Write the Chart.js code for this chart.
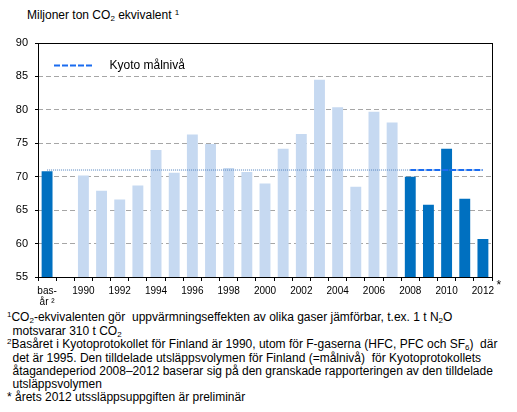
<!DOCTYPE html>
<html>
<head>
<meta charset="utf-8">
<script src="https://cdn.jsdelivr.net/npm/chart.js@4.4.0/dist/chart.umd.min.js"></script>
<style>
  html, body { margin: 0; padding: 0; background: #fff; }
  body { width: 517px; height: 412px; overflow: hidden; position: relative;
         font-family: "Liberation Sans", Arial, sans-serif; color: #000; }
  #wrap { position: absolute; left: 0; top: 0; width: 517px; height: 310px; }
  .title { position: absolute; left: 27px; top: 8px; font-size: 12px; line-height: 14px; white-space: nowrap; }
  .fn { position: absolute; white-space: nowrap; font-size: 12px; line-height: 13px; }
  sub, sup { font-size: 8px; line-height: 0; }
  sub { vertical-align: -2px; }
  sup { vertical-align: 4px; }
</style>
</head>
<body>
<div class="title">Miljoner ton CO<sub>2</sub> ekvivalent <sup>1</sup></div>
<div id="wrap"><canvas id="c" width="517" height="310"></canvas></div>

<div class="fn" style="left:7px; top:311px;"><sup>1</sup>CO<sub>2</sub>-ekvivalenten gör&nbsp; uppvärmningseffekten av olika gaser jämförbar, t.ex. 1 t N<sub>2</sub>O</div>
<div class="fn" style="left:12.5px; top:324.5px;">motsvarar 310 t CO<sub>2</sub></div>
<div class="fn" style="left:7px; top:338px;"><sup>2</sup>Basåret i Kyotoprotokollet för Finland är 1990, utom för F-gaserna (HFC, PFC och SF<sub>6</sub>)&nbsp; där</div>
<div class="fn" style="left:12.5px; top:351.5px;">det är 1995. Den tilldelade utsläppsvolymen för Finland (=målnivå)&nbsp; för Kyotoprotokollets</div>
<div class="fn" style="left:12.5px; top:364.5px;">åtagandeperiod 2008–2012 baserar sig på den granskade rapporteringen av den tilldelade</div>
<div class="fn" style="left:12.5px; top:378px;">utsläppsvolymen</div>
<div class="fn" style="left:7px; top:391px;">* årets 2012 utssläppsuppgiften är preliminär</div>

<script>
// ---- data ----
const categories = ['bas-år', '', '1990', '1991', '1992', '1993', '1994', '1995', '1996', '1997',
  '1998', '1999', '2000', '2001', '2002', '2003', '2004', '2005', '2006', '2007',
  '2008', '2009', '2010', '2011', '2012'];
const tickLabels = [['bas-', 'år ²'], '', '1990', '', '1992', '', '1994', '', '1996', '',
  '1998', '', '2000', '', '2002', '', '2004', '', '2006', '',
  '2008', '', '2010', '', '2012'];
const emissions = [70.8, null, 70.2, 67.9, 66.6, 68.7, 74.0, 70.6, 76.3, 74.9,
  71.3, 70.7, 69.0, 74.2, 76.4, 84.5, 80.4, 68.5, 79.7, 78.1,
  70.0, 65.8, 74.2, 66.7, 60.7];
const referenceLevel = [71, 71, 71, 71, 71, 71, 71, 71, 71, 71,
  71, 71, 71, 71, 71, 71, 71, 71, 71, 71,
  71, 71, 71, 71, 71];
const kyotoTarget = [null, null, null, null, null, null, null, null, null, null,
  null, null, null, null, null, null, null, null, null, null,
  71, 71, 71, 71, 71];
const yTicks = [55, 60, 65, 70, 75, 80, 85, 90];
const legendLabel = 'Kyoto målnivå';
const starredLabel = '2012';

// ---- style ----
const DARK = '#0070c0';
const LIGHT = '#c6d9f1';
const KYOTO = '#1a6cf0';
const DOTTED = '#4f81bd';
const FONT = '"Liberation Sans", Arial, sans-serif';

const framePlugin = {
  id: 'frame',
  afterDatasetsDraw(chart) {
    const a = chart.chartArea, ctx = chart.ctx;
    ctx.save();
    ctx.strokeStyle = '#000';
    ctx.lineWidth = 1;
    ctx.setLineDash([]);
    const l = Math.round(a.left) + 0.5, t = Math.round(a.top) + 0.5;
    const r = Math.round(a.right) + 0.5, b = Math.round(a.bottom) + 0.5;
    ctx.strokeRect(l, t, r - l, b - t);
    ctx.restore();
  }
};

const legendPlugin = {
  id: 'insideLegend',
  afterDraw(chart) {
    const a = chart.chartArea, ctx = chart.ctx;
    const ds = chart.data.datasets[2];
    const y = a.top + 22.5;
    ctx.save();
    ctx.strokeStyle = ds.borderColor;
    ctx.lineWidth = ds.borderWidth;
    ctx.setLineDash(ds.borderDash);
    ctx.beginPath();
    ctx.moveTo(a.left + 16, y);
    ctx.lineTo(a.left + 54, y);
    ctx.stroke();
    ctx.setLineDash([]);
    ctx.fillStyle = '#000';
    ctx.font = '12px ' + FONT;
    ctx.textBaseline = 'middle';
    ctx.textAlign = 'left';
    ctx.fillText(ds.label, a.left + 71.5, y);
    ctx.restore();
  }
};

const starPlugin = {
  id: 'star',
  afterDraw(chart) {
    const xs = chart.scales.x, ctx = chart.ctx;
    const idx = tickLabels.indexOf(starredLabel);
    const x = xs.getPixelForValue(idx);
    ctx.save();
    ctx.font = '10px ' + FONT;
    const w = ctx.measureText(starredLabel).width;
    ctx.font = '12px ' + FONT;
    ctx.fillStyle = '#000';
    ctx.textBaseline = 'top';
    ctx.textAlign = 'left';
    ctx.fillText('*', x + w / 2 + 2.5, xs.top + 3);
    ctx.restore();
  }
};

new Chart(document.getElementById('c'), {
  data: {
    labels: categories,
    datasets: [
      {
        type: 'bar',
        label: 'Utsläpp',
        data: emissions,
        backgroundColor: (ctx) => (ctx.dataIndex === 0 || ctx.dataIndex >= 20) ? DARK : LIGHT,
        borderWidth: 0,
        barPercentage: 0.6,
        categoryPercentage: 1.0,
        order: 3
      },
      {
        type: 'line',
        label: 'Basår',
        data: referenceLevel,
        borderColor: DOTTED,
        borderWidth: 1,
        borderDash: [1, 1],
        pointRadius: 0,
        fill: false,
        tension: 0,
        order: 2
      },
      {
        type: 'line',
        label: legendLabel,
        data: kyotoTarget,
        borderColor: KYOTO,
        borderWidth: 2,
        borderDash: [6, 2],
        pointRadius: 0,
        fill: false,
        tension: 0,
        order: 1
      }
    ]
  },
  options: {
    responsive: false,
    animation: false,
    devicePixelRatio: 1,
    layout: { padding: { top: 43, right: 25, left: 0, bottom: 0 } },
    plugins: { legend: { display: false }, tooltip: { enabled: false }, title: { display: false } },
    scales: {
      x: {
        type: 'category',
        offset: true,
        grid: {
          offset: true,
          drawOnChartArea: false,
          drawTicks: true,
          tickLength: 4,
          tickColor: '#000',
          tickBorderDash: [],
          color: '#000'
        },
        border: { display: false },
        ticks: {
          autoSkip: false,
          maxRotation: 0,
          minRotation: 0,
          padding: 4,
          color: '#000',
          font: { family: FONT, size: 10, lineHeight: 1.15 },
          callback: (v, i) => tickLabels[i]
        },
        afterFit: (s) => { s.height = 33; }
      },
      y: {
        min: yTicks[0],
        max: yTicks[yTicks.length - 1],
        afterBuildTicks: (s) => { s.ticks = yTicks.map(v => ({ value: v })); },
        grid: {
          color: (c) => (c.tick && c.tick.value > yTicks[0] && c.tick.value < yTicks[yTicks.length - 1]) ? '#a6a6a6' : 'rgba(0,0,0,0)',
          lineWidth: 1,
          drawTicks: true,
          tickLength: 3,
          tickColor: '#000',
          tickBorderDash: []
        },
        border: { display: false, dash: [5, 3] },
        ticks: {
          padding: 7,
          color: '#000',
          font: { family: FONT, size: 11 }
        },
        afterFit: (s) => { s.width = 38; }
      }
    }
  },
  plugins: [framePlugin, legendPlugin, starPlugin]
});
</script>
</body>
</html>
